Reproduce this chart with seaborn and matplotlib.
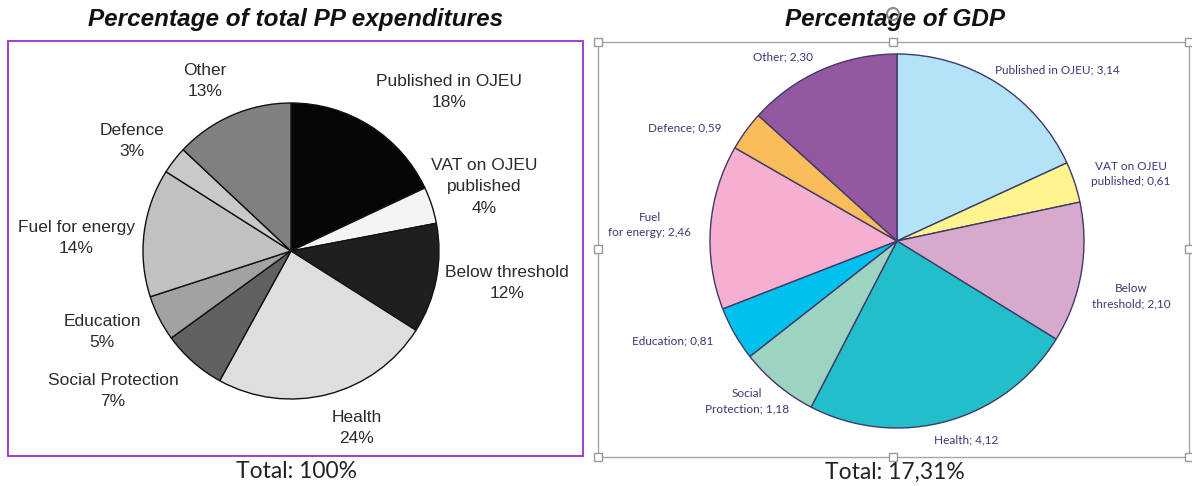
import matplotlib
matplotlib.use("Agg")
import matplotlib.pyplot as plt
import seaborn as sns
from matplotlib.patches import Rectangle, Circle

# --- DATA ---
categories = ["Published in OJEU", "VAT on OJEU published", "Below threshold", "Health",
              "Social Protection", "Education", "Fuel for energy", "Defence", "Other"]
pp_share = [18, 4, 12, 24, 7, 5, 14, 3, 13]
gdp_share = [3.14, 0.61, 2.10, 4.12, 1.18, 0.81, 2.46, 0.59, 2.30]

left_labels = ["Published in OJEU\n18%", "VAT on OJEU\npublished\n4%", "Below threshold\n12%",
               "Health\n24%", "Social Protection\n7%", "Education\n5%",
               "Fuel for energy\n14%", "Defence\n3%", "Other\n13%"]
right_labels = ["Published in OJEU; 3,14", "VAT on OJEU\npublished; 0,61", "Below\nthreshold; 2,10",
                "Health; 4,12", "Social\nProtection; 1,18", "Education; 0,81",
                "Fuel\nfor energy; 2,46", "Defence; 0,59", "Other; 2,30"]

gray_colors = ["#060606", "#f4f4f4", "#1f1f1f", "#dedede", "#616161",
               "#a2a2a2", "#c1c1c1", "#c9c9c9", "#808080"]
gdp_colors = ["#b4e3f7", "#fff48e", "#d7a9cd", "#22bfcb", "#9cd3c1",
              "#00c1ee", "#f5afd1", "#fbbc5b", "#93589f"]

# label anchor points in pixels (x, y from top)
left_pos = [(449, 92), (484, 187), (507, 283), (357, 428), (113, 391),
            (102, 332), (76, 238), (132, 141), (205, 81)]
right_pos = [(1057, 70), (1131, 174), (1131, 296), (966, 440), (747, 401),
             (673, 341), (650, 225), (685, 128), (783, 57)]

W, H = 1192, 486

sns.set_theme(style="white")
plt.rcParams['font.family'] = ['Liberation Sans', 'DejaVu Sans']

fig = plt.figure(figsize=(W / 100, H / 100), dpi=100)
ax = fig.add_axes([0, 0, 1, 1])


def py(y):
    return H - y


# left pie
ax.pie(pp_share, colors=gray_colors, startangle=90, counterclock=False,
       center=(291, py(251)), radius=148, frame=True,
       wedgeprops=dict(edgecolor="#111111", linewidth=1.0))
for lab, (x, y) in zip(left_labels, left_pos):
    ax.text(x, py(y), lab, ha="center", va="center", fontsize=12.5, color="#2b2b2b",
            linespacing=1.55)

# right pie
ax.pie(gdp_share, colors=gdp_colors, startangle=90, counterclock=False,
       center=(897, py(241)), radius=187, frame=True,
       wedgeprops=dict(edgecolor="#3e3a6a", linewidth=1.0))
for lab, (x, y) in zip(right_labels, right_pos):
    ax.text(x, py(y), lab, ha="center", va="center", fontsize=8.5, color="#3a3878",
            family=["Lato", "DejaVu Sans"], linespacing=1.5)

ax.set_xlim(0, W)
ax.set_ylim(0, H)
ax.set_aspect("equal")
ax.axis("off")

# frames
ax.add_patch(Rectangle((8, py(456)), 575, 415, fill=False, edgecolor="#9b30d0", linewidth=1.3))
ax.add_patch(Rectangle((598, py(457)), 591, 415, fill=False, edgecolor="#a6a6a6", linewidth=1.0))
for hx in (598, 893, 1189):
    for hy in (42, 249, 457):
        if hx == 893 and hy == 249:
            continue
        ax.add_patch(Rectangle((hx - 4, py(hy) - 4), 8, 8, facecolor="white",
                               edgecolor="#9a9a9a", linewidth=1.0, zorder=5))
ax.add_patch(Circle((893, py(14)), 6, fill=False, edgecolor="#8a8a8a", linewidth=1.5, zorder=5))

# titles
ax.text(296, py(20), "Percentage of total PP expenditures", ha="center", va="center",
        fontsize=17.5, fontweight="bold", fontstyle="italic", color="#111111")
ax.text(895, py(20), "Percentage of GDP", ha="center", va="center",
        fontsize=17.5, fontweight="bold", fontstyle="italic", color="#111111")
ax.text(296, py(472), "Total: 100%", ha="center", va="center", fontsize=16.5,
        color="#222222", family=["Lato", "DejaVu Sans"])
ax.text(895, py(472), "Total: 17,31%", ha="center", va="center", fontsize=16.5,
        color="#222222", family=["Lato", "DejaVu Sans"])

fig.savefig("out.png", dpi=100)
